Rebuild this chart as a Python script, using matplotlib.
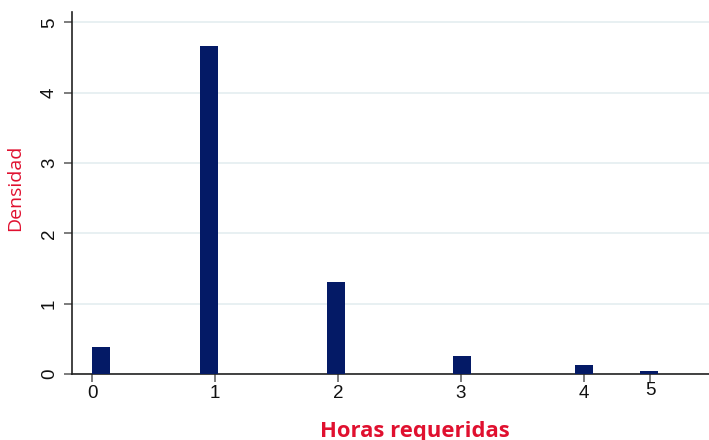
import matplotlib
matplotlib.use("Agg")
import matplotlib.pyplot as plt
from matplotlib.transforms import ScaledTranslation

# bar left edges (hours), bar width and density heights
bin_left = [0.0, 0.878, 1.911, 2.935, 3.927, 4.455]
bin_width = 0.147
density = [0.384, 4.666, 1.309, 0.256, 0.133, 0.043]

x_ticks = [0, 1, 2, 3, 4, 4.54]
x_labels = ["0", "1", "2", "3", "4", "5"]
y_ticks = [0, 1, 2, 3, 4, 5]

bar_color = "#041a66"
red = "#e0102f"

fig = plt.figure(figsize=(7.09, 4.40), dpi=100)
ax = fig.add_axes([72 / 709, 66 / 440, 1 - 72 / 709, 362.3 / 440])

ax.bar(bin_left, density, width=bin_width, align="edge", color=bar_color, zorder=3)

ax.set_xlim(-0.163, 5.02)
ax.set_ylim(0, 5.15)
ax.set_yticks(y_ticks)
ax.set_xticks(x_ticks)
ax.set_xticklabels(x_labels)
ax.grid(axis="y", color="#e4eef0", linewidth=1.2, zorder=0)

for s in ["top", "right"]:
    ax.spines[s].set_visible(False)
for s in ["left", "bottom"]:
    ax.spines[s].set_color("#222222")
    ax.spines[s].set_linewidth(1.2)

ax.tick_params(axis="both", length=6, width=1.2, color="#666666",
               labelsize=13.5, labelcolor="#111111")
ax.tick_params(axis="x", pad=2)
ax.tick_params(axis="y", pad=4)
for lab in ax.get_xticklabels() + ax.get_yticklabels():
    lab.set_family("Liberation Sans")
for lab in ax.get_yticklabels():
    lab.set_rotation(90)
    lab.set_va("center")
# the "5" label sits a bit higher in the original
last = ax.get_xticklabels()[-1]
last.set_transform(last.get_transform() + ScaledTranslation(0, 3 / 100, fig.dpi_scale_trans))

fig.text(415 / 709, 1 - 431 / 440, "Horas requeridas", color=red, fontsize=15.8,
         fontweight="bold", family="Open Sans", ha="center", va="center")
fig.text(15.5 / 709, 1 - 187.5 / 440, "Densidad", color=red, fontsize=14,
         family="Open Sans", rotation=90, ha="center", va="center")

fig.savefig("out.png", dpi=100)
